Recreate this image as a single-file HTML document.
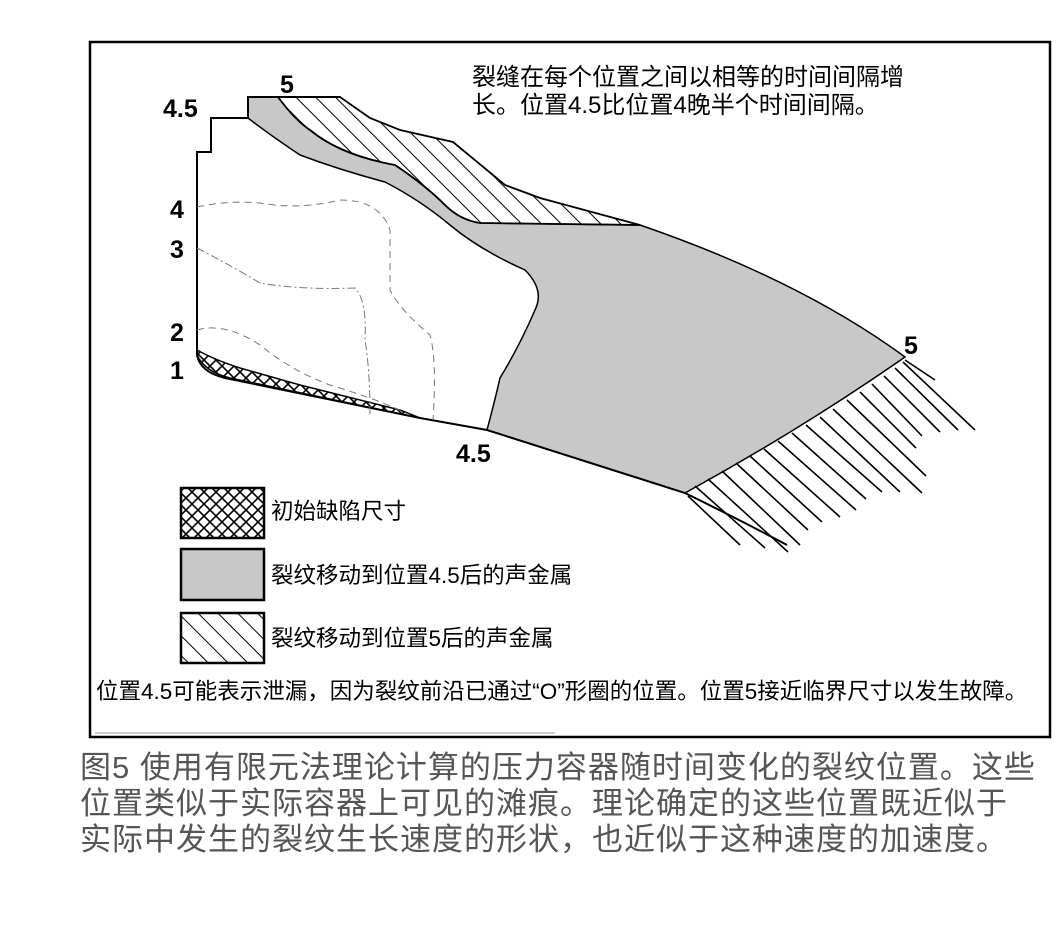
<!DOCTYPE html>
<html><head><meta charset="utf-8"><style>
body{margin:0;background:#fff;width:1062px;height:939px;overflow:hidden}
.cap{position:absolute;left:80px;top:750px;font-family:"Liberation Sans","Noto Sans CJK SC",sans-serif;font-size:31px;line-height:36px;color:#555;width:980px;letter-spacing:1px;white-space:nowrap}
</style></head><body>
<svg width="1062" height="939" style="position:absolute;left:0;top:0" font-family="Liberation Sans, Noto Sans CJK SC, sans-serif">
<defs>
<pattern id="h" patternUnits="userSpaceOnUse" width="14" height="14" patternTransform="rotate(-45)"><line x1="0" y1="0" x2="0" y2="14" stroke="#000" stroke-width="2"/></pattern>
<pattern id="x" patternUnits="userSpaceOnUse" width="12" height="12"><path d="M0 0L12 12M12 0L0 12" stroke="#000" stroke-width="1.6"/></pattern>
</defs>
<rect x="90" y="42" width="960" height="695" fill="#fff" stroke="#000" stroke-width="2.5"/>
<line x1="95" y1="733" x2="555" y2="733" stroke="#999" stroke-width="1"/>
<path d="M248 97 L278 97 Q295 120 310 130 Q340 155 395 165 Q425 185 445 205 Q460 220 480 223 L640 225 Q800 280 905 357 Q800 430 685 493 L487 430 Q495 400 500 378 Q520 345 535 310 Q545 290 525 270 Q480 250 450 225 Q420 200 385 182 Q340 170 300 155 Q270 135 248 118 Z" fill="#c8c8c8" stroke="#000" stroke-width="1.5"/>
<path d="M278 97 L340 97 L370 118 L400 130 L453 142 L505 185 L540 198 L640 225 L480 223 Q460 220 445 205 Q425 185 395 165 Q340 155 310 130 Q295 120 278 97 Z" fill="url(#h)" stroke="#000" stroke-width="1.8"/>
<path d="M197 350 Q215 360 240 368 L300 385 L400 410 L420 418 L230 378 Q205 372 197 355 Z" fill="url(#x)" stroke="#000" stroke-width="1.5"/>
<path d="M340 97 L248 97 L248 118 L211 118 L211 152 L197 152 L197 355 Q200 372 225 378 L420 418 L487 430 L685 493 Q740 520 787 545" fill="none" stroke="#000" stroke-width="2"/>
<path d="M197 207 Q230 200 260 203 Q300 210 340 200 Q380 200 390 230 L390 290 Q400 310 430 335 Q437 360 433 420" fill="none" stroke="#777" stroke-width="1" stroke-dasharray="7 5"/>
<path d="M197 248 Q230 265 260 283 Q300 290 355 288 Q367 300 365 340 Q370 370 370 415" fill="none" stroke="#777" stroke-width="1" stroke-dasharray="8 3 2 3"/>
<path d="M197 330 Q225 322 260 345 Q290 370 330 385 Q380 400 410 415" fill="none" stroke="#777" stroke-width="1" stroke-dasharray="7 5"/>
<g stroke="#000" stroke-width="1.6">
<line x1="905" y1="360" x2="935" y2="380"/>
<line x1="903" y1="362" x2="975" y2="430"/>
<line x1="895" y1="368" x2="958" y2="430"/>
<line x1="884" y1="376" x2="940" y2="432"/>
<line x1="872" y1="384" x2="922" y2="436"/>
<line x1="860" y1="392" x2="916" y2="448"/>
<line x1="847" y1="400" x2="926" y2="476"/>
<line x1="833" y1="409" x2="922" y2="493"/>
<line x1="820" y1="417" x2="900" y2="492"/>
<line x1="806" y1="425" x2="882" y2="492"/>
<line x1="792" y1="433" x2="866" y2="499"/>
<line x1="778" y1="441" x2="856" y2="510"/>
<line x1="764" y1="449" x2="840" y2="517"/>
<line x1="750" y1="456" x2="822" y2="522"/>
<line x1="736" y1="463" x2="808" y2="530"/>
<line x1="722" y1="471" x2="800" y2="545"/>
<line x1="708" y1="479" x2="788" y2="552"/>
<line x1="695" y1="486" x2="765" y2="548"/>
<line x1="688" y1="496" x2="740" y2="545"/>
</g>
<g font-weight="bold" font-size="25">
<text x="280" y="93">5</text><text x="163" y="117">4.5</text>
<text x="170" y="218">4</text><text x="170" y="258">3</text><text x="170" y="341">2</text><text x="170" y="379">1</text>
<text x="456" y="462">4.5</text><text x="904" y="354">5</text>
</g>
<text x="472" y="85" font-size="24">裂缝在每个位置之间以相等的时间间隔增</text>
<text x="472" y="113" font-size="24">长。位置4.5比位置4晚半个时间间隔。</text>
<rect x="181" y="488" width="83" height="50" fill="url(#x)" stroke="#000" stroke-width="2.5"/>
<rect x="181" y="549" width="83" height="51" fill="#c8c8c8" stroke="#000" stroke-width="2.5"/>
<rect x="181" y="613" width="83" height="50" fill="url(#h)" stroke="#000" stroke-width="2.5"/>
<g font-size="22.5">
<text x="271" y="519">初始缺陷尺寸</text>
<text x="271" y="583">裂纹移动到位置4.5后的声金属</text>
<text x="271" y="646">裂纹移动到位置5后的声金属</text>
</g>
<text x="96" y="699" font-size="22.5">位置4.5可能表示泄漏，因为裂纹前沿已通过“O”形圈的位置。位置5接近临界尺寸以发生故障。</text>
</svg>
<div class="cap">图5 使用有限元法理论计算的压力容器随时间变化的裂纹位置。这些<br>位置类似于实际容器上可见的滩痕。理论确定的这些位置既近似于<br>实际中发生的裂纹生长速度的形状，也近似于这种速度的加速度。</div>
</body></html>
